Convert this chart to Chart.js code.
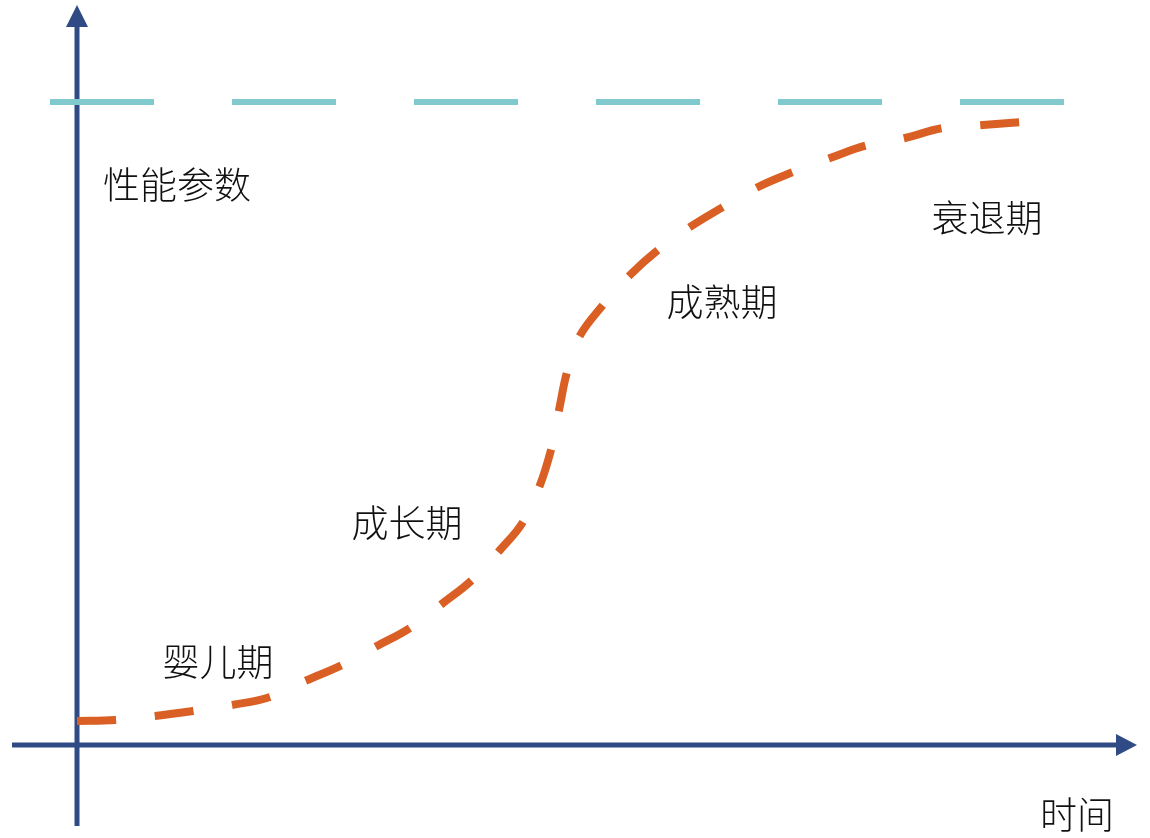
<!DOCTYPE html>
<html>
<head>
<meta charset="utf-8">
<script src="https://cdn.jsdelivr.net/npm/chart.js@4/dist/chart.umd.min.js"></script>
<style>
  html, body { margin: 0; padding: 0; background: #ffffff; }
  canvas { display: block; }
</style>
</head>
<body>
<canvas id="grafica" width="1150" height="838"></canvas>
<script>
// curva S: tiempo vs rendimiento (unidades arbitrarias)
const tiempo = [0, 3.8, 7.8, 11.6, 15.5, 19.3, 22.8, 26.5, 30, 33.3, 36.6, 39.5, 42.3, 44.6, 46.3, 47.4, 47.9, 48.3, 49.0, 50.1, 52.6, 55.3, 58.1, 61.3, 64.6, 68.1, 71.6, 75.3, 79.1, 82.8, 86.6, 90.6, 94.5];
const rendimiento = [2.4, 2.5, 2.9, 3.4, 4.0, 4.8, 6.4, 8.0, 9.9, 11.7, 14.2, 16.5, 19.5, 22.3, 26.0, 29.5, 31.8, 34.0, 37.3, 40.6, 44.0, 47.0, 49.5, 51.8, 53.8, 55.8, 57.3, 58.7, 60.0, 60.7, 61.7, 62.0, 62.3];

// limite (linea discontinua superior)
const limiteX = [-2.7, 98.8];
const limiteY = [64.3, 64.3];

// etiquetas de las etapas
const etapas = ['性能参数', '婴儿期', '成长期', '成熟期', '衰退期', '时间'];
const etapasX = [10, 14.1, 33, 64.5, 91, 100];
const etapasY = [56, 8.3, 22.2, 44.3, 52.7, -7];

const COLOR_EJE = '#2F4A84';

const ejesConFlecha = {
    id: 'ejesConFlecha',
    beforeDatasetsDraw(chart) {
        const { ctx, scales: { x, y } } = chart;
        const x0 = x.getPixelForValue(0);
        const y0 = y.getPixelForValue(0);
        const arriba = y.getPixelForValue(y.max);
        const derecha = x.getPixelForValue(x.max);
        ctx.save();
        ctx.strokeStyle = COLOR_EJE;
        ctx.fillStyle = COLOR_EJE;
        ctx.lineWidth = 5;
        // eje vertical
        ctx.beginPath();
        ctx.moveTo(x0, y.getPixelForValue(-8.1));
        ctx.lineTo(x0, arriba + 20);
        ctx.stroke();
        ctx.beginPath();
        ctx.moveTo(x0, arriba);
        ctx.lineTo(x0 - 11, arriba + 22);
        ctx.lineTo(x0 + 11, arriba + 22);
        ctx.closePath();
        ctx.fill();
        // eje horizontal
        ctx.beginPath();
        ctx.moveTo(x.getPixelForValue(-6.5), y0);
        ctx.lineTo(derecha - 20, y0);
        ctx.stroke();
        ctx.beginPath();
        ctx.moveTo(derecha, y0);
        ctx.lineTo(derecha - 21, y0 - 11);
        ctx.lineTo(derecha - 21, y0 + 11);
        ctx.closePath();
        ctx.fill();
        ctx.restore();
    },
    afterDatasetsDraw(chart) {
        const { ctx, scales: { x, y } } = chart;
        ctx.save();
        ctx.fillStyle = '#111111';
        ctx.font = '300 37px "Noto Sans CJK SC", sans-serif';
        ctx.textAlign = 'center';
        ctx.textBaseline = 'middle';
        etapas.forEach((texto, i) => {
            ctx.fillText(texto, x.getPixelForValue(etapasX[i]), y.getPixelForValue(etapasY[i]));
        });
        ctx.restore();
    }
};

new Chart(document.getElementById('grafica'), {
    type: 'line',
    data: {
        datasets: [
            {
                data: limiteX.map((v, i) => ({ x: v, y: limiteY[i] })),
                borderColor: '#80C9CC',
                borderWidth: 6,
                borderDash: [104, 78],
                borderCapStyle: 'butt',
                pointRadius: 0,
                clip: false
            },
            {
                data: tiempo.map((v, i) => ({ x: v, y: rendimiento[i] })),
                borderColor: '#D95F24',
                borderWidth: 8,
                borderDash: [39, 39],
                borderCapStyle: 'butt',
                tension: 0.4,
                pointRadius: 0,
                clip: false
            }
        ]
    },
    options: {
        responsive: false,
        animation: false,
        layout: { padding: { left: 77, right: 13, top: 5, bottom: 93 } },
        plugins: { legend: { display: false }, tooltip: { enabled: false } },
        scales: {
            x: { type: 'linear', min: 0, max: 106, display: false },
            y: { type: 'linear', min: 0, max: 74, display: false }
        }
    },
    plugins: [ejesConFlecha]
});
</script>
</body>
</html>
